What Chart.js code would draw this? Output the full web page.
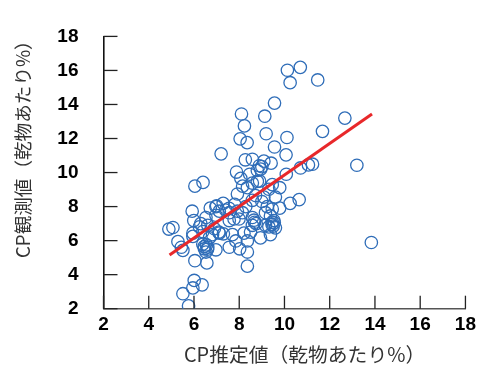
<!DOCTYPE html>
<html>
<head>
<meta charset="utf-8">
<script src="https://cdn.jsdelivr.net/npm/chart.js@4/dist/chart.umd.min.js"></script>
<style>
html,body{margin:0;padding:0;background:#fff;}
#wrap{width:481px;height:367px;position:relative;}
</style>
</head>
<body>
<div id="wrap"><canvas id="c" width="481" height="367"></canvas></div>
<script>
// ---- data ----
const estimatedCP = [10.13,10.70,10.25,11.47,9.56,8.10,9.13,8.23,12.67,9.19,11.68,8.04,8.35,10.11,9.56,7.20,10.07,8.27,8.58,9.09,9.41,8.89,8.80,7.88,8.46,10.08,8.07,10.71,11.06,11.24,13.20,6.04,6.40,8.15,8.58,8.80,9.46,9.31,9.79,8.36,7.92,8.72,9.09,9.60,8.58,10.65,10.25,7.29,7.80,8.29,9.24,9.79,9.46,5.92,6.72,6.97,7.12,7.56,7.92,8.14,9.16,9.38,6.53,6.97,7.56,7.77,7.99,8.58,8.68,9.46,5.99,9.16,9.31,9.60,9.53,8.58,6.24,6.61,4.89,5.07,5.95,6.39,6.82,7.12,6.68,5.95,7.70,8.21,9.38,8.94,5.29,5.51,5.44,6.39,6.61,6.46,6.53,6.97,7.56,8.02,8.36,8.36,7.85,6.04,6.57,8.36,6.01,5.95,6.36,5.51,5.76,13.84,6.45,6.55,6.60,9.45,9.55,9.50,8.65,8.75,9.00,8.90,8.95,9.00,7.10,7.30,7.40,8.50,6.90,6.30,7.00,7.55];
const observedCP = [16.01,16.18,15.28,15.44,14.08,13.44,13.31,12.74,13.20,12.28,12.42,11.98,11.76,12.06,11.50,11.10,11.04,10.75,10.78,10.67,10.55,10.40,10.12,10.03,9.90,9.90,9.66,10.27,10.45,10.49,10.43,9.20,9.42,9.20,9.38,9.48,9.29,9.02,9.11,9.11,8.74,8.65,8.56,8.56,8.37,8.41,8.19,8.19,8.13,8.00,8.00,7.91,7.86,7.73,7.91,8.00,7.73,7.64,7.73,7.64,7.64,7.45,7.36,7.49,7.18,7.27,7.27,7.36,7.08,7.08,7.18,6.90,6.81,6.75,7.18,6.90,6.81,6.90,6.68,6.77,6.44,6.53,6.35,6.44,6.16,6.25,6.35,6.44,6.35,6.16,5.94,5.43,5.61,5.79,5.61,5.52,5.33,5.46,5.61,5.52,5.33,5.98,5.98,4.82,4.69,4.50,3.66,3.22,3.40,2.88,2.17,5.89,5.65,5.75,5.50,6.95,7.05,6.85,7.20,7.00,8.30,9.50,10.20,10.35,6.50,6.40,7.80,6.50,6.70,7.00,8.05,7.90];
const fitX = [4.92, 13.87];
const fitY = [5.15, 13.44];
const tickValues = [2,4,6,8,10,12,14,16,18];
const xTitle = 'CP推定値（乾物あたり%）';
const yTitle = 'CP観測値（乾物あたり%）';

const scatterPts = estimatedCP.map((x,i)=>({x:x, y:observedCP[i]}));
const fitPts = fitX.map((x,i)=>({x:x, y:fitY[i]}));

const inwardTicks = {
  id:'inwardTicks',
  afterDatasetsDraw(chart){
    const ctx = chart.ctx, xs = chart.scales.x, ys = chart.scales.y;
    const ca = chart.chartArea;
    ctx.save();
    ctx.lineWidth = 1.3;
    ctx.strokeStyle = '#222';
    tickValues.forEach(v=>{
      const px = xs.getPixelForValue(v);
      ctx.beginPath(); ctx.moveTo(px, ca.bottom); ctx.lineTo(px, ca.bottom-13); ctx.stroke();
      const py = ys.getPixelForValue(v);
      ctx.beginPath(); ctx.moveTo(ca.left, py); ctx.lineTo(ca.left+14, py); ctx.stroke();
    });
    ctx.fillStyle = '#333';
    ctx.textAlign = 'left';
    ctx.textBaseline = 'middle';
    // x axis title
    ctx.font = '19.8px "Noto Sans CJK JP", "Noto Sans", sans-serif';
    ctx.fillText(xTitle, 184, 354);
    // y axis title
    ctx.font = '18.6px "Noto Sans CJK JP", "Noto Sans", sans-serif';
    ctx.translate(23, 258);
    ctx.rotate(-Math.PI/2);
    ctx.fillText(yTitle, 0, 0);
    ctx.restore();
  }
};

const tickFont = {family:'"Liberation Sans", Arial, sans-serif', size:19, weight:'bold'};

new Chart(document.getElementById('c'), {
  type:'scatter',
  data:{
    datasets:[
      {type:'line', data:fitPts, borderColor:'#e8282a', borderWidth:3, pointRadius:0, fill:false, order:0, tension:0},
      {type:'scatter', data:scatterPts, borderColor:'#2f6db8', backgroundColor:'rgba(0,0,0,0)', borderWidth:1.3, pointRadius:6.2, pointHoverRadius:6.2, order:1}
    ]
  },
  options:{
    responsive:false,
    animation:false,
    events:[],
    layout:{padding:{top:19, right:12.5, left:0, bottom:0}},
    plugins:{legend:{display:false}, tooltip:{enabled:false}},
    scales:{
      x:{
        type:'linear', min:2, max:18,
        afterBuildTicks(s){ s.ticks = tickValues.map(v=>({value:v})); },
        afterFit(s){ s.height = 58.3; },
        grid:{display:true, drawOnChartArea:false, drawTicks:false},
        border:{display:true, color:'#555', width:1.6},
        ticks:{color:'#000', font:tickFont, padding:5, maxRotation:0, autoSkip:false},
        title:{display:false}
      },
      y:{
        type:'linear', min:2, max:18,
        afterBuildTicks(s){ s.ticks = tickValues.map(v=>({value:v})); },
        afterFit(s){ s.width = 103.5; },
        grid:{display:true, drawOnChartArea:false, drawTicks:false},
        border:{display:true, color:'#111', width:1.6},
        ticks:{color:'#000', font:tickFont, padding:25, autoSkip:false},
        title:{display:false}
      }
    }
  },
  plugins:[inwardTicks]
});
</script>
</body>
</html>
